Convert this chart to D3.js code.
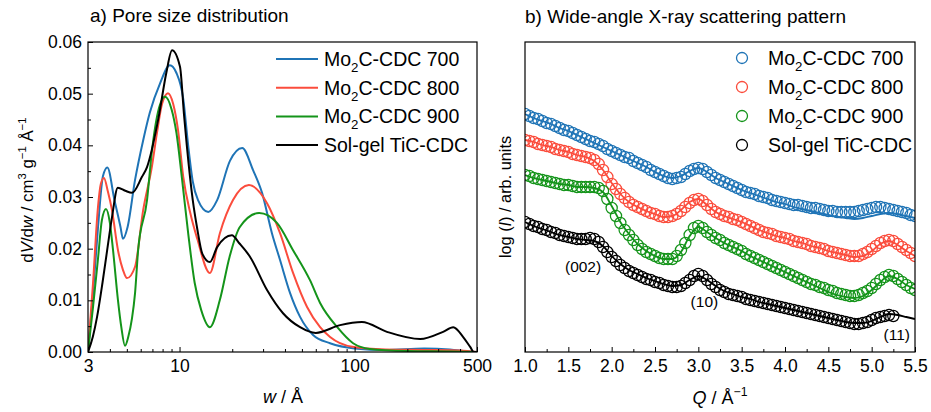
<!DOCTYPE html>
<html><head><meta charset="utf-8">
<script src="https://cdn.jsdelivr.net/npm/d3@7/dist/d3.min.js"></script>
<style>
body{margin:0;background:#fff}
text{font-family:"Liberation Sans",Arial,Helvetica,sans-serif;fill:#000}
</style>
</head><body>
<svg id="chart" width="931" height="412"></svg>
<script>
// ---------------- DATA ----------------
const seriesNames = ["700", "800", "900", "TiC"];
const seriesColors = ["#1f74b6", "#fb4c3c", "#14941a", "#000000"];

// Panel a) pore size distribution: w (Å) and dV/dw (cm3 g-1 Å-1)
const wBlue  = [3.0,3.2,3.42,3.65,3.87,4.25,4.6,4.75,5.05,5.57,6.2,6.76,7.74,8.8,9.6,10.5,11.2,11.9,12.75,14.6,16.4,19.4,22.8,26.3,29.6,33.7,37.5,42.8,48.8,57.9,72.4,100,150,250,350,450,500];
const dvBlue = [0,0.011,0.024,0.034,0.0357,0.0294,0.0242,0.0219,0.0242,0.0333,0.041,0.0463,0.052,0.0555,0.054,0.049,0.040,0.033,0.0294,0.0271,0.0294,0.037,0.0395,0.0352,0.0308,0.023,0.0178,0.0114,0.0068,0.0033,0.0017,0.0007,0.0004,0.0007,0.0005,0.0001,0];

const wRed  = [3.0,3.2,3.42,3.55,3.7,3.9,4.11,4.45,4.75,5.01,5.57,6.2,6.96,7.43,7.94,8.59,9.2,9.8,10.5,11.5,12.6,14.9,17.0,20.2,24.9,31.6,37.5,44.5,53.5,63.5,72.4,97,150,250,400,500];
const dvRed = [0,0.013,0.028,0.0325,0.0337,0.031,0.0275,0.0197,0.0159,0.0143,0.0165,0.0275,0.036,0.0424,0.048,0.0501,0.048,0.043,0.0339,0.027,0.022,0.0153,0.023,0.0294,0.0323,0.0288,0.023,0.0153,0.0087,0.0048,0.0029,0.001,0.0005,0.0004,0.0003,0];

const wGreen  = [3.0,3.2,3.42,3.6,3.8,4.0,4.17,4.45,4.65,4.88,5.1,5.35,5.57,5.8,6.52,6.96,7.43,8.26,9.0,9.6,10.3,11.2,12.2,13.3,14.9,17.0,19.3,22.1,28.5,36,44.5,55.6,63.5,79.6,98,122,200,350,500];
const dvGreen = [0,0.0085,0.018,0.0255,0.0277,0.025,0.0197,0.010,0.0048,0.0012,0.003,0.0065,0.0114,0.0197,0.0294,0.039,0.0455,0.0494,0.047,0.0424,0.0339,0.023,0.0134,0.0081,0.0048,0.0101,0.0184,0.0242,0.0269,0.025,0.0197,0.0139,0.0095,0.0048,0.0017,0.0006,0.0002,0.0001,0];

const wBlack  = [3.0,3.2,3.38,3.63,3.86,4.11,4.44,4.9,5.35,6.1,6.52,7.6,8.4,9.06,10.06,10.6,11.0,11.9,12.6,13.5,14.9,16.4,19.9,22.0,25.3,31.6,39,48.8,60,82.6,110,153,237,320,366,417,457,480,500];
const dvBlack = [0,0.003,0.0068,0.0134,0.0197,0.026,0.0318,0.0312,0.0308,0.0339,0.0358,0.0455,0.054,0.0584,0.0552,0.046,0.040,0.0294,0.024,0.019,0.0174,0.0203,0.0226,0.021,0.0184,0.012,0.0075,0.0048,0.0037,0.0052,0.0058,0.0039,0.0025,0.0039,0.0048,0.0029,0.001,0,0];

const poreXTicks = [3, 10, 100, 500];
const poreXMinor = [4,5,6,7,8,9,20,30,40,50,60,70,80,90,200,300,400];
const poreYTicks = [0,0.01,0.02,0.03,0.04,0.05,0.06];
const poreYMinor = [0.005,0.015,0.025,0.035,0.045,0.055];

// Panel b) WAXS: Q (Å-1) and log(I) (arb. units, offset)
const qScatter = [1.00,1.05,1.10,1.15,1.20,1.25,1.30,1.35,1.40,1.45,
  1.50,1.55,1.60,1.65,1.70,1.75,1.80,1.85,1.90,1.95,
  2.00,2.05,2.10,2.15,2.20,2.25,2.30,2.35,2.40,2.45,
  2.50,2.55,2.60,2.65,2.70,2.75,2.80,2.85,2.90,2.95,
  3.00,3.05,3.10,3.15,3.20,3.25,3.30,3.35,3.40,3.45,
  3.50,3.55,3.60,3.65,3.70,3.75,3.80,3.85,3.90,3.95,
  4.00,4.05,4.10,4.15,4.20,4.25,4.30,4.35,4.40,4.45,
  4.50,4.55,4.60,4.65,4.70,4.75,4.80,4.85,4.90,4.95,
  5.00,5.05,5.10,5.15,5.20,5.25,5.30,5.35,5.40,5.45,5.50];
const qFit = [1.0,1.1,1.2,1.3,1.4,1.5,1.6,1.7,1.8,1.9,2.0,2.1,2.2,2.3,2.4,2.5,2.6,2.7,2.8,2.9,
  3.0,3.1,3.2,3.3,3.4,3.5,3.6,3.7,3.8,3.9,4.0,4.1,4.2,4.3,4.4,4.5,4.6,4.7,4.8,4.9,5.0,5.1,5.2,5.3,5.4,5.5];

const ptsBlue = [23.8,23.6,23.4,23.3,23.1,22.9,22.8,22.6,22.4,22.2,
  22.1,21.9,21.7,21.5,21.3,21.1,21.0,20.8,20.6,20.3,
  20.1,19.9,19.7,19.5,19.4,19.1,18.9,18.7,18.5,18.2,
  18.0,17.8,17.6,17.4,17.3,17.4,17.5,17.8,18.1,18.3,
  18.4,18.3,18.0,17.7,17.4,17.2,17.0,16.8,16.6,16.4,
  16.2,16.0,15.9,15.8,15.6,15.5,15.4,15.2,15.1,15.0,
  14.9,14.8,14.7,14.7,14.6,14.5,14.4,14.4,14.3,14.2,
  14.1,14.1,14.0,14.0,14.0,14.0,14.0,14.1,14.2,14.3,
  14.4,14.5,14.5,14.4,14.3,14.2,14.1,14.0,13.9,13.7,13.6];
const fitBlue = [23.8,23.4,23.1,22.8,22.4,22.1,21.7,21.3,20.9,20.5,20.1,19.7,19.3,18.9,18.5,18.0,17.6,17.4,17.6,18.1,
  18.4,18.0,17.4,17.0,16.6,16.2,15.9,15.6,15.3,15.0,14.8,14.5,14.3,14.1,13.9,13.7,13.5,13.4,13.3,13.4,13.6,13.8,13.9,13.8,13.6,13.4];

const ptsRed = [21.2,21.1,21.0,20.8,20.7,20.6,20.5,20.3,20.2,20.1,
  20.0,19.8,19.7,19.6,19.5,19.4,19.2,18.8,18.2,17.5,
  16.8,16.3,15.8,15.4,15.0,14.7,14.5,14.3,14.1,13.9,
  13.8,13.6,13.5,13.5,13.6,13.8,14.1,14.5,14.9,15.2,
  15.3,15.1,14.7,14.3,14.0,13.8,13.6,13.5,13.3,13.2,
  13.0,12.8,12.6,12.4,12.2,12.0,11.9,11.8,11.6,11.5,
  11.4,11.3,11.1,11.0,10.9,10.8,10.6,10.5,10.4,10.3,
  10.1,10.0,9.9,9.8,9.7,9.6,9.6,9.6,9.8,10.0,
  10.3,10.6,10.9,11.1,11.2,11.1,10.8,10.5,10.2,9.9,9.6];
const fitRed = [21.2,21.0,20.7,20.5,20.2,20.0,19.7,19.5,19.1,18.2,16.9,15.8,15.0,14.5,14.1,13.8,13.5,13.6,14.2,15.0,
  15.3,14.7,14.0,13.6,13.3,13.0,12.6,12.2,11.9,11.6,11.4,11.1,10.9,10.6,10.4,10.1,9.9,9.7,9.5,9.6,10.1,10.8,11.1,10.7,10.1,9.6];

const ptsGreen = [17.7,17.6,17.4,17.3,17.2,17.1,17.0,16.9,16.8,16.7,
  16.7,16.6,16.5,16.5,16.5,16.5,16.5,16.4,16.1,15.3,
  14.4,13.6,12.9,12.2,11.7,11.2,10.7,10.3,10.0,9.8,
  9.6,9.4,9.3,9.3,9.3,9.6,10.2,10.9,11.7,12.4,
  12.6,12.4,12.0,11.7,11.4,11.2,10.9,10.7,10.5,10.3,
  10.1,9.8,9.6,9.4,9.2,9.0,8.8,8.6,8.4,8.2,
  8.0,7.8,7.6,7.4,7.2,7.0,6.8,6.7,6.5,6.4,
  6.2,6.1,5.9,5.8,5.7,5.6,5.6,5.7,5.9,6.1,
  6.4,6.8,7.2,7.5,7.7,7.6,7.3,7.0,6.7,6.4,6.2];
const fitGreen = [17.7,17.4,17.2,17.0,16.8,16.7,16.5,16.5,16.4,16.0,14.6,13.0,11.8,10.8,10.1,9.6,9.3,9.3,10.0,11.6,
  12.5,12.0,11.4,10.9,10.5,10.1,9.6,9.2,8.8,8.4,8.0,7.6,7.2,6.8,6.4,6.0,5.7,5.5,5.4,5.6,6.2,7.0,7.6,7.3,6.7,6.3];

const ptsBlack = [13.0,12.8,12.6,12.5,12.3,12.2,12.0,11.9,11.7,11.6,
  11.5,11.4,11.3,11.3,11.3,11.4,11.3,11.0,10.5,10.0,
  9.5,9.1,8.7,8.4,8.1,7.9,7.7,7.5,7.3,7.2,
  7.0,6.9,6.7,6.6,6.5,6.5,6.6,6.9,7.2,7.6,
  7.8,7.6,7.2,6.8,6.5,6.2,6.0,5.8,5.7,5.6,
  5.5,5.3,5.2,5.1,5.0,4.9,4.8,4.7,4.6,4.5,
  4.4,4.3,4.2,4.1,4.0,3.9,3.8,3.7,3.6,3.5,
  3.4,3.3,3.2,3.1,3.0,2.9,2.8,2.8,2.9,3.0,
  3.2,3.4,3.5,3.6,3.7,3.6];
const fitBlack = [13.0,12.6,12.3,12.0,11.7,11.5,11.3,11.2,11.1,10.6,9.6,8.8,8.2,7.8,7.4,7.1,6.8,6.6,6.7,7.2,
  7.6,7.2,6.6,6.1,5.8,5.5,5.3,5.0,4.8,4.6,4.4,4.2,4.0,3.8,3.6,3.4,3.2,3.0,2.9,2.9,3.1,3.5,3.8,3.7,3.5,3.3];

const waxsXTicks = [1.0,1.5,2.0,2.5,3.0,3.5,4.0,4.5,5.0,5.5];
const waxsXMinor = [1.25,1.75,2.25,2.75,3.25,3.75,4.25,4.75,5.25];
const peakLabels = ["(002)", "(10)", "(11)"];
const peakQ = [1.67, 3.07, 5.29];
const peakLogI = [8.0, 4.5, 1.2];

// ---------------- DRAW ----------------
const svg = d3.select("#chart");
const FONT = 17.5;

function rich(textSel, parts, size) {
  let shift = 0;
  parts.forEach(p => {
    const ts = textSel.append("tspan").text(p.t);
    let target = 0;
    if (p.sup) { target = -size * 0.42; ts.attr("font-size", size * 0.68); }
    if (p.sub) { target = size * 0.3; ts.attr("font-size", size * 0.68); }
    if (p.it) ts.attr("font-style", "italic");
    if (target !== shift) { ts.attr("dy", target - shift); shift = target; }
  });
}

function legendName(i) {
  if (i === 3) return [{t: "Sol-gel TiC-CDC"}];
  return [{t: "Mo"}, {t: "2", sub: true}, {t: "C-CDC " + seriesNames[i]}];
}

// ---- Panel a ----
const ax = {l: 88, r: 477, t: 42, b: 352};
const x1 = d3.scaleLog().domain([3, 500]).range([ax.l, ax.r]);
const y1 = d3.scaleLinear().domain([0, 0.06]).range([ax.b, ax.t]);

svg.append("clipPath").attr("id", "clipA").append("rect")
  .attr("x", ax.l).attr("y", ax.t - 2).attr("width", ax.r - ax.l).attr("height", ax.b - ax.t + 2);

const gA = svg.append("g");
const poreW = [wBlue, wRed, wGreen, wBlack];
const poreV = [dvBlue, dvRed, dvGreen, dvBlack];
const line1 = d3.line().x(d => x1(d[0])).y(d => y1(d[1])).curve(d3.curveMonotoneX);
[0,1,2,3].forEach(i => {
  const pts = poreW[i].map((w, k) => [w, poreV[i][k]]);
  gA.append("path").attr("d", line1(pts)).attr("fill", "none")
    .attr("stroke", seriesColors[i]).attr("stroke-width", 2).attr("clip-path", "url(#clipA)");
});

function styleAxis(g) {
  g.select(".domain").remove();
  g.selectAll("line").attr("stroke", "#000").attr("stroke-width", 1);
  g.selectAll("text").attr("font-size", FONT).attr("fill", "#000")
    .attr("font-family", '"Liberation Sans", Arial, sans-serif');
}

svg.append("g").attr("transform", `translate(0,${ax.b})`)
  .call(d3.axisBottom(x1).tickValues(poreXTicks).tickSize(-5).tickPadding(8).tickFormat(d3.format("d")))
  .call(styleAxis);
svg.append("g").attr("transform", `translate(0,${ax.b})`)
  .call(d3.axisBottom(x1).tickValues(poreXMinor).tickSize(-3).tickFormat(""))
  .call(styleAxis);
svg.append("g").attr("transform", `translate(${ax.l},0)`)
  .call(d3.axisLeft(y1).tickValues(poreYTicks).tickSize(-5).tickPadding(6).tickFormat(d3.format(".2f")))
  .call(styleAxis);
svg.append("g").attr("transform", `translate(${ax.l},0)`)
  .call(d3.axisLeft(y1).tickValues(poreYMinor).tickSize(-3).tickFormat(""))
  .call(styleAxis);

svg.append("rect").attr("x", ax.l).attr("y", ax.t).attr("width", ax.r - ax.l).attr("height", ax.b - ax.t)
  .attr("fill", "none").attr("stroke", "#000").attr("stroke-width", 1.2);

svg.append("text").attr("x", 90).attr("y", 22).attr("font-size", 19).text("a) Pore size distribution");

// legend a
[0,1,2,3].forEach(i => {
  const yy = 59 + i * 28.7;
  svg.append("line").attr("x1", 276).attr("x2", 318).attr("y1", yy).attr("y2", yy)
    .attr("stroke", seriesColors[i]).attr("stroke-width", 2);
  const t = svg.append("text").attr("x", 324).attr("y", yy + 7).attr("font-size", 19.5);
  rich(t, legendName(i), 19.5);
});

// axis labels a
rich(svg.append("text").attr("x", 283).attr("y", 403).attr("text-anchor", "middle").attr("font-size", 18),
  [{t: "w", it: true}, {t: " / Å"}], 18);
rich(svg.append("text").attr("transform", "translate(33,190) rotate(-90)").attr("text-anchor", "middle").attr("font-size", 16.8),
  [{t: "d"}, {t: "V", it: true}, {t: "/d"}, {t: "w", it: true}, {t: " / cm"}, {t: "3", sup: true},
   {t: " g"}, {t: "−1", sup: true}, {t: " Å"}, {t: "−1", sup: true}], 16.8);

// ---- Panel b ----
const bx = {l: 525, r: 915, t: 42, b: 352};
const x2 = d3.scaleLinear().domain([1, 5.5]).range([bx.l, bx.r]);
const y2 = d3.scaleLinear().domain([0, 31]).range([bx.b, bx.t]);

svg.append("clipPath").attr("id", "clipB").append("rect")
  .attr("x", bx.l).attr("y", bx.t).attr("width", bx.r - bx.l).attr("height", bx.b - bx.t);

const gB = svg.append("g").attr("clip-path", "url(#clipB)");
const ptsAll = [ptsBlue, ptsRed, ptsGreen, ptsBlack];
const fitAll = [fitBlue, fitRed, fitGreen, fitBlack];
const line2 = d3.line().x(d => x2(d[0])).y(d => y2(d[1])).curve(d3.curveMonotoneX);
[0,1,2,3].forEach(i => {
  const pts = ptsAll[i].map((v, k) => [qScatter[k], v]);
  gB.append("g").selectAll("circle").data(pts).join("circle")
    .attr("cx", d => x2(d[0])).attr("cy", d => y2(d[1])).attr("r", 5.6)
    .attr("fill", "none").attr("stroke", seriesColors[i]).attr("stroke-width", 1.25);
  const fpts = fitAll[i].map((v, k) => [qFit[k], v]);
  gB.append("path").attr("d", line2(fpts)).attr("fill", "none")
    .attr("stroke", seriesColors[i]).attr("stroke-width", 1.8);
});

svg.append("g").attr("transform", `translate(0,${bx.b})`)
  .call(d3.axisBottom(x2).tickValues(waxsXTicks).tickSize(-5).tickPadding(8).tickFormat(d3.format(".1f")))
  .call(styleAxis);
svg.append("g").attr("transform", `translate(0,${bx.b})`)
  .call(d3.axisBottom(x2).tickValues(waxsXMinor).tickSize(-3).tickFormat(""))
  .call(styleAxis);

svg.append("rect").attr("x", bx.l).attr("y", bx.t).attr("width", bx.r - bx.l).attr("height", bx.b - bx.t)
  .attr("fill", "none").attr("stroke", "#000").attr("stroke-width", 1.2);

svg.append("text").attr("x", 525).attr("y", 23).attr("font-size", 19).text("b) Wide-angle X-ray scattering pattern");

peakLabels.forEach((s, i) => {
  svg.append("text").attr("x", x2(peakQ[i])).attr("y", y2(peakLogI[i])).attr("text-anchor", "middle")
    .attr("font-size", 15.5).attr("fill", "#222").text(s);
});

// legend b
[0,1,2,3].forEach(i => {
  const yy = 58 + i * 29;
  svg.append("circle").attr("cx", 742).attr("cy", yy).attr("r", 5.5)
    .attr("fill", "none").attr("stroke", seriesColors[i]).attr("stroke-width", 1.3);
  const t = svg.append("text").attr("x", 768).attr("y", yy + 7).attr("font-size", 19.5);
  rich(t, legendName(i), 19.5);
});

rich(svg.append("text").attr("x", 720).attr("y", 404).attr("text-anchor", "middle").attr("font-size", 18),
  [{t: "Q", it: true}, {t: " / Å"}, {t: "−1", sup: true}], 18);
rich(svg.append("text").attr("transform", "translate(511,197) rotate(-90)").attr("text-anchor", "middle").attr("font-size", 16.3),
  [{t: "log ("}, {t: "I", it: true}, {t: ") / arb. units"}], 16.3);
</script>
</body></html>
